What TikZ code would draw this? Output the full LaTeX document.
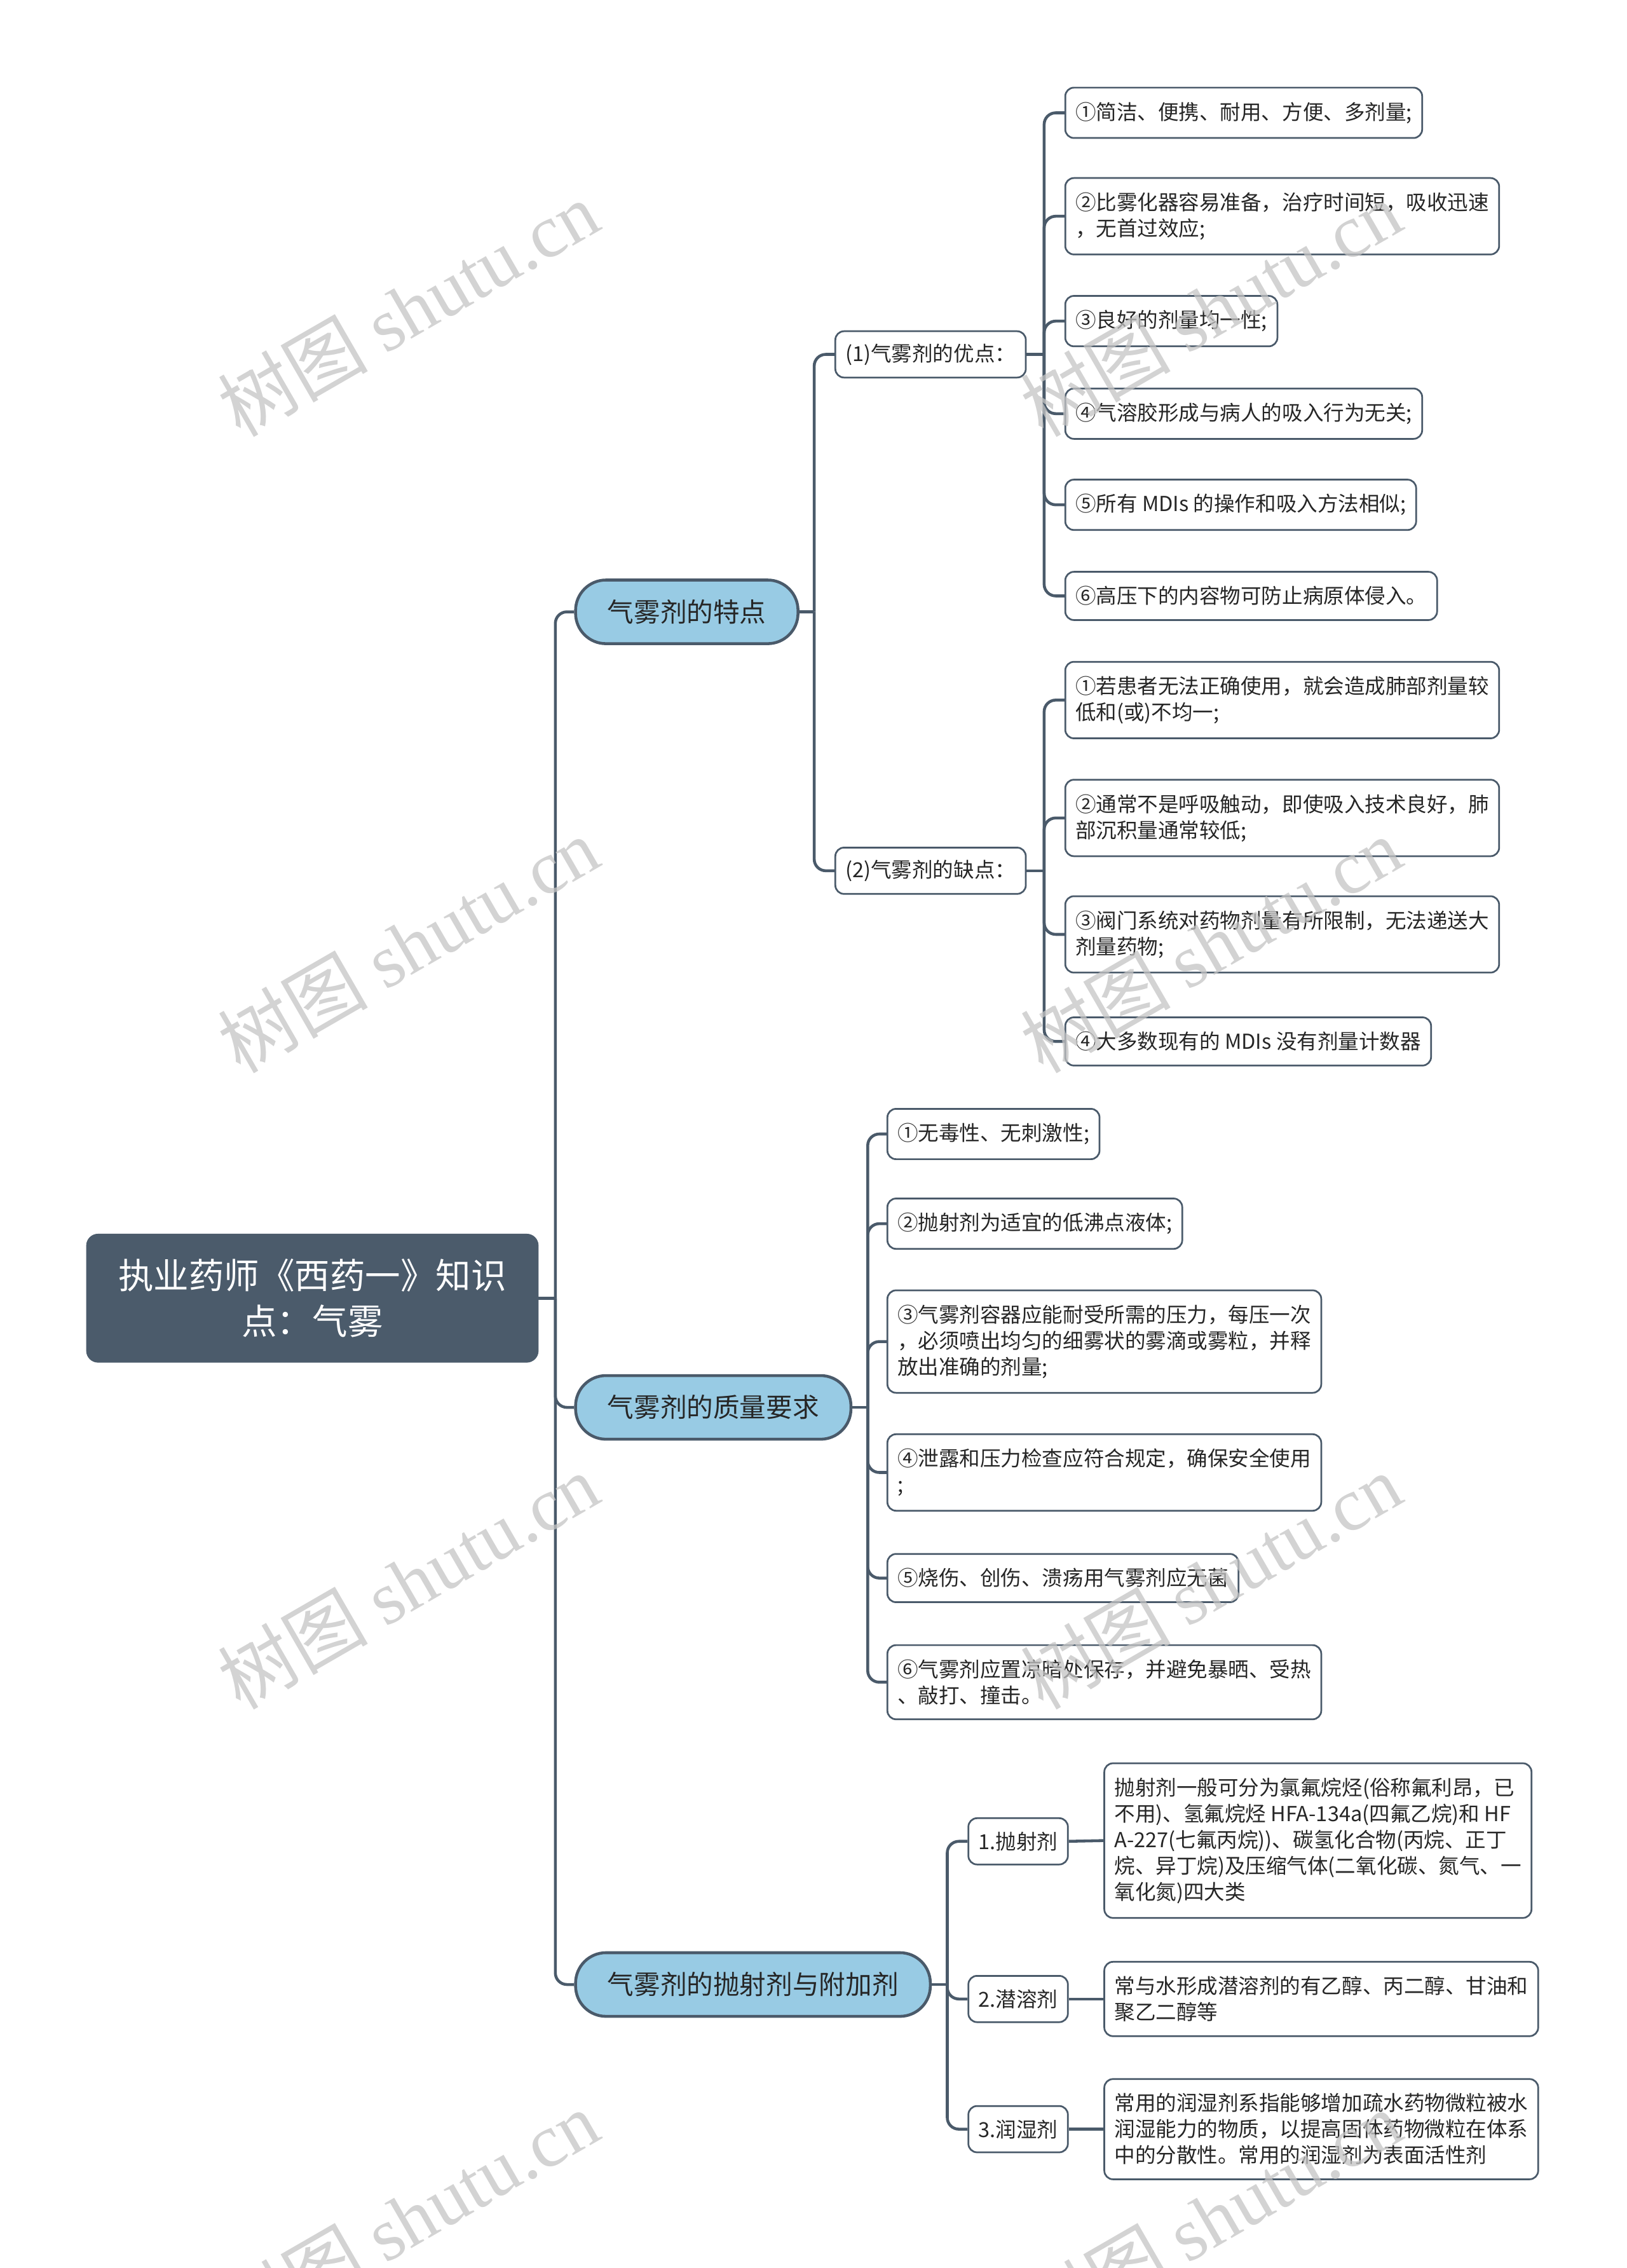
\documentclass[tikz,border=0pt]{standalone}
\usepackage{fontspec}
\setmainfont{Noto Sans CJK SC}
\newfontfamily\wmlatin{Liberation Serif}
\definecolor{slate}{HTML}{4A5A6A}
\definecolor{rootfill}{HTML}{4B5B6B}
\definecolor{pillfill}{HTML}{98CBE4}
\definecolor{wmgray}{HTML}{C4C4C4}

\begin{document}
\begin{tikzpicture}[
		x=1pt, y=-1pt,
		every node/.style={inner sep=0pt, text=black!85},
		rootbox/.style={fill=rootfill, draw=rootfill, rounded corners=8pt, text=white, align=center, inner xsep=22pt, inner ysep=17pt, font=\fontsize{24.4}{32}\selectfont},
		pill/.style={anchor=west, fill=pillfill, draw=slate, line width=2pt, rounded corners=21pt, minimum height=44pt, inner xsep=22pt, font=\fontsize{18.3}{22}\selectfont},
		sub/.style={anchor=west, fill=white, draw=slate, line width=1.2pt, rounded corners=6pt, minimum height=32pt, inner xsep=7pt, font=\fontsize{14.3}{18}\selectfont},
		leaf/.style={sub, align=left, minimum height=33pt, inner ysep=10pt},
		conn/.style={draw=slate, line width=2pt, rounded corners=8pt},
		wm/.style={anchor=base west, rotate=30, text=wmgray, opacity=0.75, font=\fontsize{52}{52}\selectfont},
	]

	\useasboundingbox (0,0) rectangle (1125,1568);

	% root and main branches
	\node[rootbox] (root) at (216,897.5) {执业药师《西药一》知识\\点：气雾};
	\node[pill] (b1) at (397,423) {气雾剂的特点};
	\node[pill] (b2) at (397,973) {气雾剂的质量要求};
	\node[pill] (b3) at (397,1372) {气雾剂的抛射剂与附加剂};

	\coordinate (r0) at (384,897.5);
	\coordinate (t1) at (563,423);
	\coordinate (t11) at (722,245);
	\coordinate (t12) at (722,602);
	\coordinate (t2) at (600,973);
	\coordinate (t3) at (655,1372);

	% 特点
	\node[sub] (s1) at (577,245) {(1)气雾剂的优点：};
	\node[sub] (s2) at (577,602) {(2)气雾剂的缺点：};

	\node[leaf] (a1) at (736,78) {①简洁、便携、耐用、方便、多剂量;};
	\node[leaf] (a2) at (736,149.5) {②比雾化器容易准备，治疗时间短，吸收迅速\\，无首过效应;};
	\node[leaf] (a3) at (736,222) {③良好的剂量均一性;};
	\node[leaf] (a4) at (736,286) {④气溶胶形成与病人的吸入行为无关;};
	\node[leaf] (a5) at (736,349) {⑤所有 MDIs 的操作和吸入方法相似;};
	\node[leaf] (a6) at (736,412) {⑥高压下的内容物可防止病原体侵入。};

	\node[leaf] (d1) at (736,484) {①若患者无法正确使用，就会造成肺部剂量较\\低和(或)不均一;};
	\node[leaf] (d2) at (736,565.5) {②通常不是呼吸触动，即使吸入技术良好，肺\\部沉积量通常较低;};
	\node[leaf] (d3) at (736,646) {③阀门系统对药物剂量有所限制，无法递送大\\剂量药物;};
	\node[leaf] (d4) at (736,720) {④大多数现有的 MDIs 没有剂量计数器};

	% 质量要求
	\node[leaf] (q1) at (613,784) {①无毒性、无刺激性;};
	\node[leaf] (q2) at (613,846) {②抛射剂为适宜的低沸点液体;};
	\node[leaf] (q3) at (613,927.5) {③气雾剂容器应能耐受所需的压力，每压一次\\，必须喷出均匀的细雾状的雾滴或雾粒，并释\\放出准确的剂量;};
	\node[leaf] (q4) at (613,1018) {④泄露和压力检查应符合规定，确保安全使用\\;};
	\node[leaf] (q5) at (613,1091) {⑤烧伤、创伤、溃疡用气雾剂应无菌};
	\node[leaf] (q6) at (613,1163) {⑥气雾剂应置凉暗处保存，并避免暴晒、受热\\、敲打、撞击。};

	% 抛射剂与附加剂
	\node[sub] (p1) at (669,1273) {1.抛射剂};
	\node[sub] (p2) at (669,1382) {2.潜溶剂};
	\node[sub] (p3) at (669,1472) {3.润湿剂};

	\node[leaf] (pl1) at (763,1272.5) {抛射剂一般可分为氯氟烷烃(俗称氟利昂，已\\不用)、氢氟烷烃 HFA-134a(四氟乙烷)和 HF\\A-227(七氟丙烷))、碳氢化合物(丙烷、正丁\\烷、异丁烷)及压缩气体(二氧化碳、氮气、一\\氧化氮)四大类};
	\node[leaf] (pl2) at (763,1382) {常与水形成潜溶剂的有乙醇、丙二醇、甘油和\\聚乙二醇等};
	\node[leaf] (pl3) at (763,1472) {常用的润湿剂系指能够增加疏水药物微粒被水\\润湿能力的物质，以提高固体药物微粒在体系\\中的分散性。常用的润湿剂为表面活性剂};

	% connectors
	\draw[conn] (root.east) -- (r0);
	\draw[conn] (r0) |- (b1.west);
	\draw[conn] (r0) |- (b2.west);
	\draw[conn] (r0) |- (b3.west);

	\draw[conn] (b1.east) -- (t1);
	\draw[conn] (t1) |- (s1.west);
	\draw[conn] (t1) |- (s2.west);

	\draw[conn] (s1.east) -- (t11);
	\draw[conn] (t11) |- (a1.west);
	\draw[conn] (t11) |- (a2.west);
	\draw[conn] (t11) |- (a3.west);
	\draw[conn] (t11) |- (a4.west);
	\draw[conn] (t11) |- (a5.west);
	\draw[conn] (t11) |- (a6.west);

	\draw[conn] (s2.east) -- (t12);
	\draw[conn] (t12) |- (d1.west);
	\draw[conn] (t12) |- (d2.west);
	\draw[conn] (t12) |- (d3.west);
	\draw[conn] (t12) |- (d4.west);

	\draw[conn] (b2.east) -- (t2);
	\draw[conn] (t2) |- (q1.west);
	\draw[conn] (t2) |- (q2.west);
	\draw[conn] (t2) |- (q3.west);
	\draw[conn] (t2) |- (q4.west);
	\draw[conn] (t2) |- (q5.west);
	\draw[conn] (t2) |- (q6.west);

	\draw[conn] (b3.east) -- (t3);
	\draw[conn] (t3) |- (p1.west);
	\draw[conn] (t3) |- (p2.west);
	\draw[conn] (t3) |- (p3.west);
	\draw[conn] (p1.east) -- (pl1.west);
	\draw[conn] (p2.east) -- (pl2.west);
	\draw[conn] (p3.east) -- (pl3.west);

	% watermarks
	\node[wm] (wm1) at (166,303) {树图 {\wmlatin shutu.cn}};
	\node[wm] (wm2) at (721,303) {树图 {\wmlatin shutu.cn}};
	\node[wm] (wm3) at (166,743) {树图 {\wmlatin shutu.cn}};
	\node[wm] (wm4) at (721,743) {树图 {\wmlatin shutu.cn}};
	\node[wm] (wm5) at (166,1183) {树图 {\wmlatin shutu.cn}};
	\node[wm] (wm6) at (721,1183) {树图 {\wmlatin shutu.cn}};
	\node[wm] (wm7) at (166,1623) {树图 {\wmlatin shutu.cn}};
	\node[wm] (wm8) at (721,1623) {树图 {\wmlatin shutu.cn}};

\end{tikzpicture}
\end{document}
